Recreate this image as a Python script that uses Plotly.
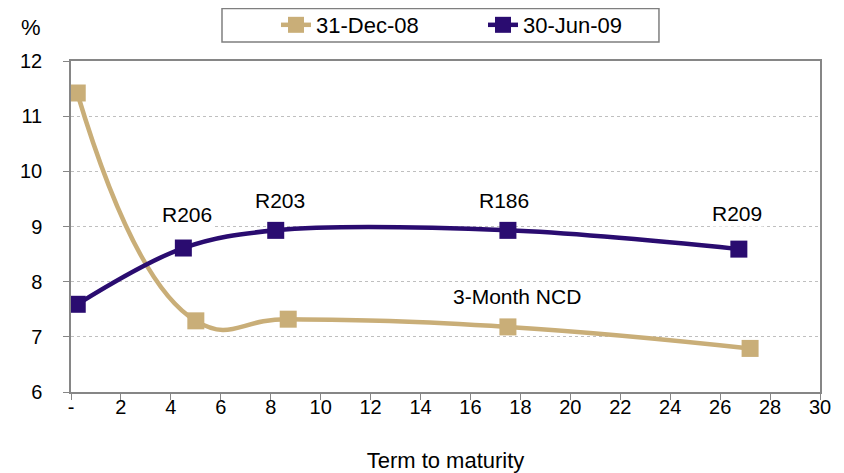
import plotly.graph_objects as go

# Data
term_dec08 = [0.25, 5.0, 8.7, 17.5, 27.2]
yield_dec08 = [11.42, 7.29, 7.32, 7.18, 6.79]
term_jun09 = [0.25, 4.5, 8.2, 17.5, 26.75]
yield_jun09 = [7.59, 8.61, 8.93, 8.93, 8.59]
series_names = ["31-Dec-08", "30-Jun-09"]
x_tickvals = list(range(0, 31, 2))
x_ticktext = ["-"] + [str(v) for v in range(2, 31, 2)]
bond_labels = ["R206", "R203", "R186", "R209", "3-Month NCD"]

TAN = "#C9AE78"
NAVY = "#2A0C70"
FONT = "Liberation Sans, Arial, sans-serif"
AXIS = "#868686"

fig = go.Figure()
fig.add_trace(go.Scatter(
    x=term_dec08, y=yield_dec08, name=series_names[0], mode="lines+markers",
    line=dict(color=TAN, width=4.5, shape="spline", smoothing=1.3),
    marker=dict(symbol="square", size=17, color=TAN),
))
fig.add_trace(go.Scatter(
    x=term_jun09, y=yield_jun09, name=series_names[1], mode="lines+markers",
    line=dict(color=NAVY, width=4.5, shape="spline", smoothing=1.0),
    marker=dict(symbol="square", size=17, color=NAVY),
))

label_pos = [(4.66, 9.21), (8.39, 9.48), (17.35, 9.48), (26.67, 9.24), (17.87, 7.74)]
for txt, (ax, ay) in zip(bond_labels, label_pos):
    fig.add_annotation(x=ax, y=ay, text=txt, showarrow=False,
                       font=dict(size=21, color="black", family=FONT),
                       bgcolor="white")

fig.add_annotation(xref="paper", yref="paper", x=-0.0534, y=1.1, text="%",
                   showarrow=False, font=dict(size=22, color="black", family=FONT),
                   xanchor="center", yanchor="middle")

# legend frame
fig.add_shape(type="rect", xref="paper", yref="paper",
              x0=0.2016, x1=0.785, y0=1.0574, y1=1.1586,
              line=dict(color="#7F7F7F", width=1.5), fillcolor="rgba(0,0,0,0)")

fig.update_layout(
    width=836, height=465,
    margin=dict(l=63, r=24, t=53, b=81),
    paper_bgcolor="white", plot_bgcolor="white",
    font=dict(family=FONT, size=20, color="black"),
    showlegend=True,
    legend=dict(orientation="h", xref="container", yref="container",
                x=0.3206, y=0.9634, xanchor="left", yanchor="middle",
                borderwidth=0, bgcolor="rgba(0,0,0,0)",
                font=dict(size=22), entrywidth=162, tracegroupgap=0),
    xaxis=dict(range=[0, 30], tickvals=x_tickvals, ticktext=x_ticktext,
               showgrid=False, zeroline=False, showline=True, linecolor=AXIS,
               linewidth=1.5, mirror=True, ticks="outside", ticklen=6,
               tickcolor=AXIS, tickfont=dict(size=20), automargin=False,
               ticklabelstandoff=-10,
               title=dict(text="Term to maturity", font=dict(size=22), standoff=38)),
    yaxis=dict(range=[6, 12], dtick=1, showgrid=True, gridcolor="#BFBFBF",
               griddash="dot", gridwidth=1, zeroline=False, showline=True,
               linecolor=AXIS, linewidth=1.5, mirror=True, ticks="outside",
               ticklen=6, tickcolor=AXIS, tickfont=dict(size=20),
               ticklabelstandoff=17, automargin=False),
)

fig.write_html("out.html")
